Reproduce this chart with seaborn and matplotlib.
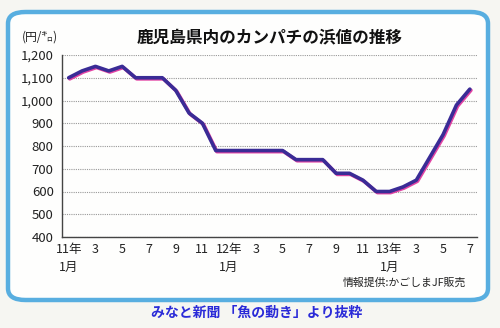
import matplotlib
matplotlib.use("Agg")
import matplotlib.pyplot as plt
import matplotlib.patheffects as pe
from matplotlib.patches import FancyBboxPatch
import seaborn as sns
import pandas as pd

# ---- data ----
prices_2011 = [1100, 1130, 1150, 1130, 1150, 1100, 1100, 1100, 1045, 945, 900, 780]
prices_2012 = [780, 780, 780, 780, 780, 740, 740, 740, 680, 680, 650, 600]
prices_2013 = [600, 620, 650, 750, 850, 980, 1050]
prices = prices_2011 + prices_2012 + prices_2013
month_index = list(range(len(prices)))
tick_positions = list(range(0, len(prices), 2))
tick_labels = ["11年\n1月", "3", "5", "7", "9", "11",
               "12年\n1月", "3", "5", "7", "9", "11",
               "13年\n1月", "3", "5", "7"]
y_ticks = [400, 500, 600, 700, 800, 900, 1000, 1100, 1200]
y_labels = ["400", "500", "600", "700", "800", "900", "1,000", "1,100", "1,200"]

title = "鹿児島県内のカンパチの浜値の推移"
unit = "(円/㌔)"
source = "情報提供:かごしまJF販売"
caption = "みなと新聞 「魚の動き」より抜粋"

df = pd.DataFrame({"month": month_index, "price": prices})

sns.set_theme(style="white")
plt.rcParams["font.family"] = ["Noto Sans CJK JP", "DejaVu Sans"]

fig = plt.figure(figsize=(5.0, 3.28), dpi=100, facecolor="#f6f6f2")

# rounded frame
frame = FancyBboxPatch((8 / 500, 1 - 300 / 328), 480 / 500, 288 / 328,
                       boxstyle="round,pad=0,rounding_size=0.035",
                       transform=fig.transFigure, facecolor="#fefefd",
                       edgecolor="#58aee0", linewidth=3.2, zorder=-10)
fig.patches.append(frame)

ax = fig.add_axes([62 / 500, 1 - 237 / 328, 414.5 / 500, 182 / 328])
ax.set_facecolor("none")
ax.set_zorder(5)

sns.lineplot(data=df, x="month", y="price", ax=ax, color="#3a2c96",
             linewidth=2.6, zorder=3,
             path_effects=[pe.SimpleLineShadow(offset=(0.8, -0.8), shadow_color="#e0309a", alpha=0.9),
                           pe.Normal()])

ax.set_xlim(-0.5, len(prices) - 0.5)
ax.set_ylim(400, 1200)
ax.set_yticks(y_ticks)
ax.set_yticklabels(y_labels, fontsize=9.5, color="#222222")
ax.set_xticks(tick_positions)
ax.set_xticklabels(tick_labels, fontsize=9, color="#222222", linespacing=1.5,
                   va="top")
ax.set_xticks([i - 0.5 for i in range(len(prices) + 1)], minor=True)
ax.tick_params(axis="x", which="major", length=0, pad=4)
ax.tick_params(axis="x", which="minor", length=3, width=0.8, color="#444444", direction="out")
ax.tick_params(axis="y", which="major", length=4, width=0.8, color="#444444", direction="out", pad=2)
ax.set_xlabel("")
ax.set_ylabel("")

ax.grid(axis="y", color="#999999", linestyle=(0, (1, 1)), linewidth=0.8)
ax.grid(axis="x", visible=False)
for s in ["top", "right"]:
    ax.spines[s].set_visible(False)
for s in ["left", "bottom"]:
    ax.spines[s].set_color("#444444")
    ax.spines[s].set_linewidth(1.0)

fig.text(270 / 500, 1 - 37 / 328, title, ha="center", va="center",
         fontsize=12, fontweight="bold", color="#111111")
fig.text(22 / 500, 1 - 37 / 328, unit, ha="left", va="center",
         fontsize=8.5, color="#222222")
fig.text(466 / 500, 1 - 283 / 328, source, ha="right", va="center",
         fontsize=7.8, color="#222222")
fig.text(257 / 500, 1 - 313 / 328, caption, ha="center", va="center",
         fontsize=10, fontweight="bold", color="#2a2ad8")

fig.savefig("out.png", dpi=100, facecolor=fig.get_facecolor())
